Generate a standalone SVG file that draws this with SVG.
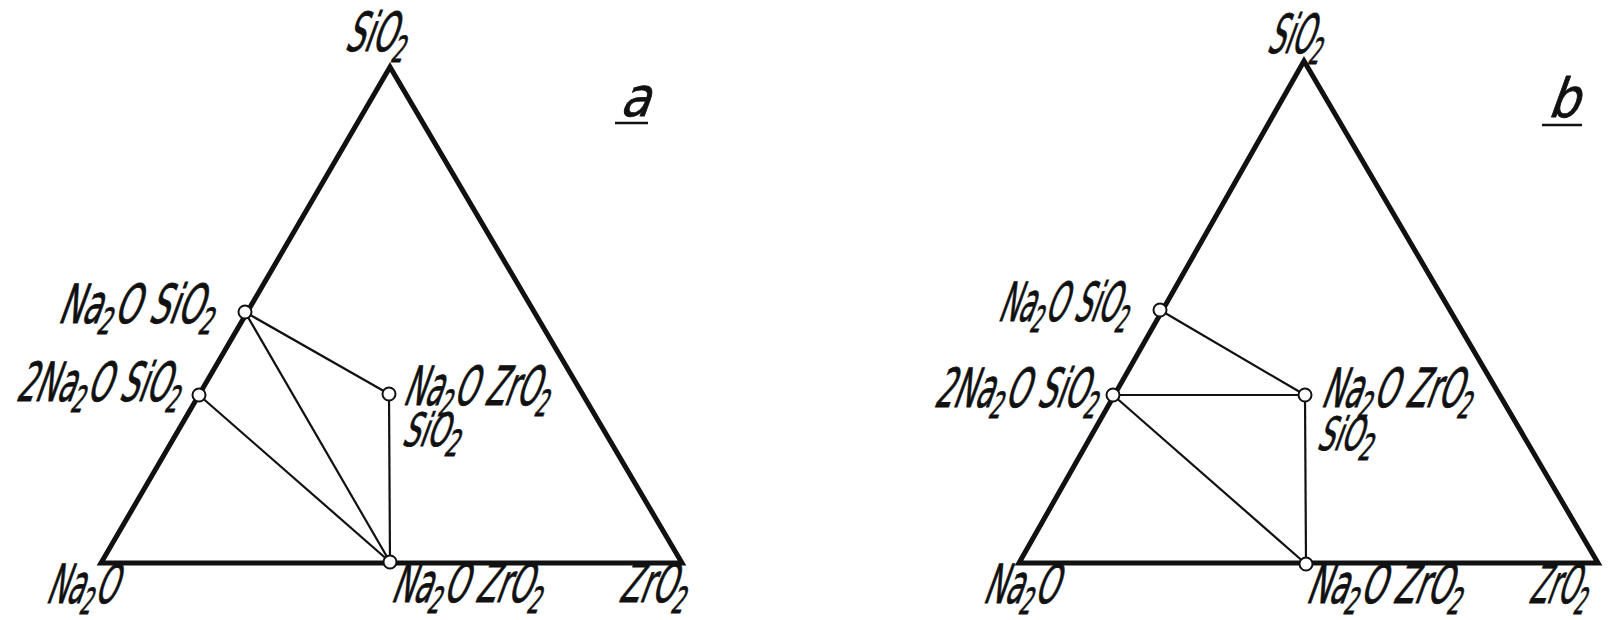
<svg xmlns="http://www.w3.org/2000/svg" width="1612" height="620" viewBox="0 0 1612 620">
<style>
.bg{fill:#fff}
.tri{fill:none;stroke:#111;stroke-width:5;stroke-linejoin:miter}
.tie{stroke:#111;stroke-width:2.2;fill:none}
.pt{fill:#fff;stroke:#111;stroke-width:2}
.lbl{font-family:"DejaVu Sans Condensed","Liberation Sans Narrow","DejaVu Sans",sans-serif;font-size:54px;fill:#111;stroke:#111;stroke-width:0.8}
.sm{font-size:46px}
.sub{font-size:36px}
.ul{stroke:#111;stroke-width:2.5}
</style>
<rect class="bg" x="0" y="0" width="1612" height="620"/>

<!-- Diagram a -->
<g id="diagram-a">
  <g id="a-connectors">
    <polygon class="tri" points="101,563 390,67 682,563"/>
    <line class="tie" x1="245" y1="312" x2="389" y2="394"/>
    <line class="tie" x1="245" y1="312" x2="390" y2="562"/>
    <line class="tie" x1="199" y1="395" x2="390" y2="562"/>
    <line class="tie" x1="389" y1="394" x2="390" y2="562"/>
  </g>
  <g id="a-SiO2">
    <text class="lbl" transform="translate(344,51) skewX(-20)" textLength="62" lengthAdjust="spacingAndGlyphs">SiO<tspan class="sub" dy="11">2</tspan></text>
  </g>
  <g id="a-Na2O">
    <text class="lbl" transform="translate(45,603) skewX(-20)" textLength="70" lengthAdjust="spacingAndGlyphs">Na<tspan class="sub" dy="11">2</tspan><tspan dy="-11">O</tspan></text>
  </g>
  <g id="a-ZrO2">
    <text class="lbl" transform="translate(618,602) skewX(-20)" textLength="68" lengthAdjust="spacingAndGlyphs">ZrO<tspan class="sub" dy="11">2</tspan></text>
  </g>
  <g id="a-Na2OSiO2">
    <circle class="pt" cx="245" cy="312" r="6.5"/>
    <text class="lbl" transform="translate(57,323) skewX(-20)" textLength="157" lengthAdjust="spacingAndGlyphs">Na<tspan class="sub" dy="11">2</tspan><tspan dy="-11">O SiO</tspan><tspan class="sub" dy="11">2</tspan></text>
  </g>
  <g id="a-2Na2OSiO2">
    <circle class="pt" cx="199" cy="395" r="6.5"/>
    <text class="lbl" transform="translate(15,401) skewX(-20)" textLength="165" lengthAdjust="spacingAndGlyphs">2Na<tspan class="sub" dy="11">2</tspan><tspan dy="-11">O SiO</tspan><tspan class="sub" dy="11">2</tspan></text>
  </g>
  <g id="a-Na2OZrO2SiO2">
    <circle class="pt" cx="389" cy="394" r="6.5"/>
    <text class="lbl" transform="translate(402,405) skewX(-20)" textLength="147" lengthAdjust="spacingAndGlyphs">Na<tspan class="sub" dy="11">2</tspan><tspan dy="-11">O ZrO</tspan><tspan class="sub" dy="11">2</tspan></text>
    <text class="lbl sm" transform="translate(401,446) skewX(-20)" textLength="59" lengthAdjust="spacingAndGlyphs">SiO<tspan class="sub" dy="10">2</tspan></text>
  </g>
  <g id="a-Na2OZrO2">
    <circle class="pt" cx="390" cy="562" r="6.5"/>
    <text class="lbl" transform="translate(390,602) skewX(-20)" textLength="152" lengthAdjust="spacingAndGlyphs">Na<tspan class="sub" dy="11">2</tspan><tspan dy="-11">O ZrO</tspan><tspan class="sub" dy="11">2</tspan></text>
  </g>
  <g id="a-title">
    <text class="lbl" transform="translate(619,116) skewX(-20)">a</text>
    <line class="ul" x1="615" y1="123" x2="648" y2="123"/>
  </g>
</g>

<!-- Diagram b -->
<g id="diagram-b">
  <g id="b-connectors">
    <polygon class="tri" points="1019,563 1304,61 1598,563"/>
    <line class="tie" x1="1160" y1="310" x2="1305" y2="395"/>
    <line class="tie" x1="1113" y1="395" x2="1305" y2="395"/>
    <line class="tie" x1="1113" y1="395" x2="1306" y2="564"/>
    <line class="tie" x1="1305" y1="395" x2="1306" y2="564"/>
  </g>
  <g id="b-SiO2">
    <text class="lbl" transform="translate(1266,53) skewX(-20)" textLength="56" lengthAdjust="spacingAndGlyphs">SiO<tspan class="sub" dy="11">2</tspan></text>
  </g>
  <g id="b-Na2O">
    <text class="lbl" transform="translate(982,603) skewX(-20)" textLength="74" lengthAdjust="spacingAndGlyphs">Na<tspan class="sub" dy="11">2</tspan><tspan dy="-11">O</tspan></text>
  </g>
  <g id="b-ZrO2">
    <text class="lbl" transform="translate(1528,603) skewX(-20) scale(0.62,1)" textLength="95" lengthAdjust="spacingAndGlyphs">ZrO<tspan class="sub" dy="11">2</tspan></text>
  </g>
  <g id="b-Na2OSiO2">
    <circle class="pt" cx="1160" cy="310" r="6.5"/>
    <text class="lbl" transform="translate(997,321) skewX(-20)" textLength="131" lengthAdjust="spacingAndGlyphs">Na<tspan class="sub" dy="11">2</tspan><tspan dy="-11">O SiO</tspan><tspan class="sub" dy="11">2</tspan></text>
  </g>
  <g id="b-2Na2OSiO2">
    <circle class="pt" cx="1113" cy="395" r="6.5"/>
    <text class="lbl" transform="translate(933,407) skewX(-20)" textLength="165" lengthAdjust="spacingAndGlyphs">2Na<tspan class="sub" dy="11">2</tspan><tspan dy="-11">O SiO</tspan><tspan class="sub" dy="11">2</tspan></text>
  </g>
  <g id="b-Na2OZrO2SiO2">
    <circle class="pt" cx="1305" cy="395" r="6.5"/>
    <text class="lbl" transform="translate(1320,407) skewX(-20)" textLength="152" lengthAdjust="spacingAndGlyphs">Na<tspan class="sub" dy="11">2</tspan><tspan dy="-11">O ZrO</tspan><tspan class="sub" dy="11">2</tspan></text>
    <text class="lbl sm" transform="translate(1316,450) skewX(-20)" textLength="57" lengthAdjust="spacingAndGlyphs">SiO<tspan class="sub" dy="10">2</tspan></text>
  </g>
  <g id="b-Na2OZrO2">
    <circle class="pt" cx="1306" cy="564" r="6.5"/>
    <text class="lbl" transform="translate(1305,603) skewX(-20)" textLength="157" lengthAdjust="spacingAndGlyphs">Na<tspan class="sub" dy="11">2</tspan><tspan dy="-11">O ZrO</tspan><tspan class="sub" dy="11">2</tspan></text>
  </g>
  <g id="b-title">
    <text class="lbl" transform="translate(1547,117) skewX(-20)">b</text>
    <line class="ul" x1="1542" y1="125" x2="1582" y2="125"/>
  </g>
</g>
</svg>
